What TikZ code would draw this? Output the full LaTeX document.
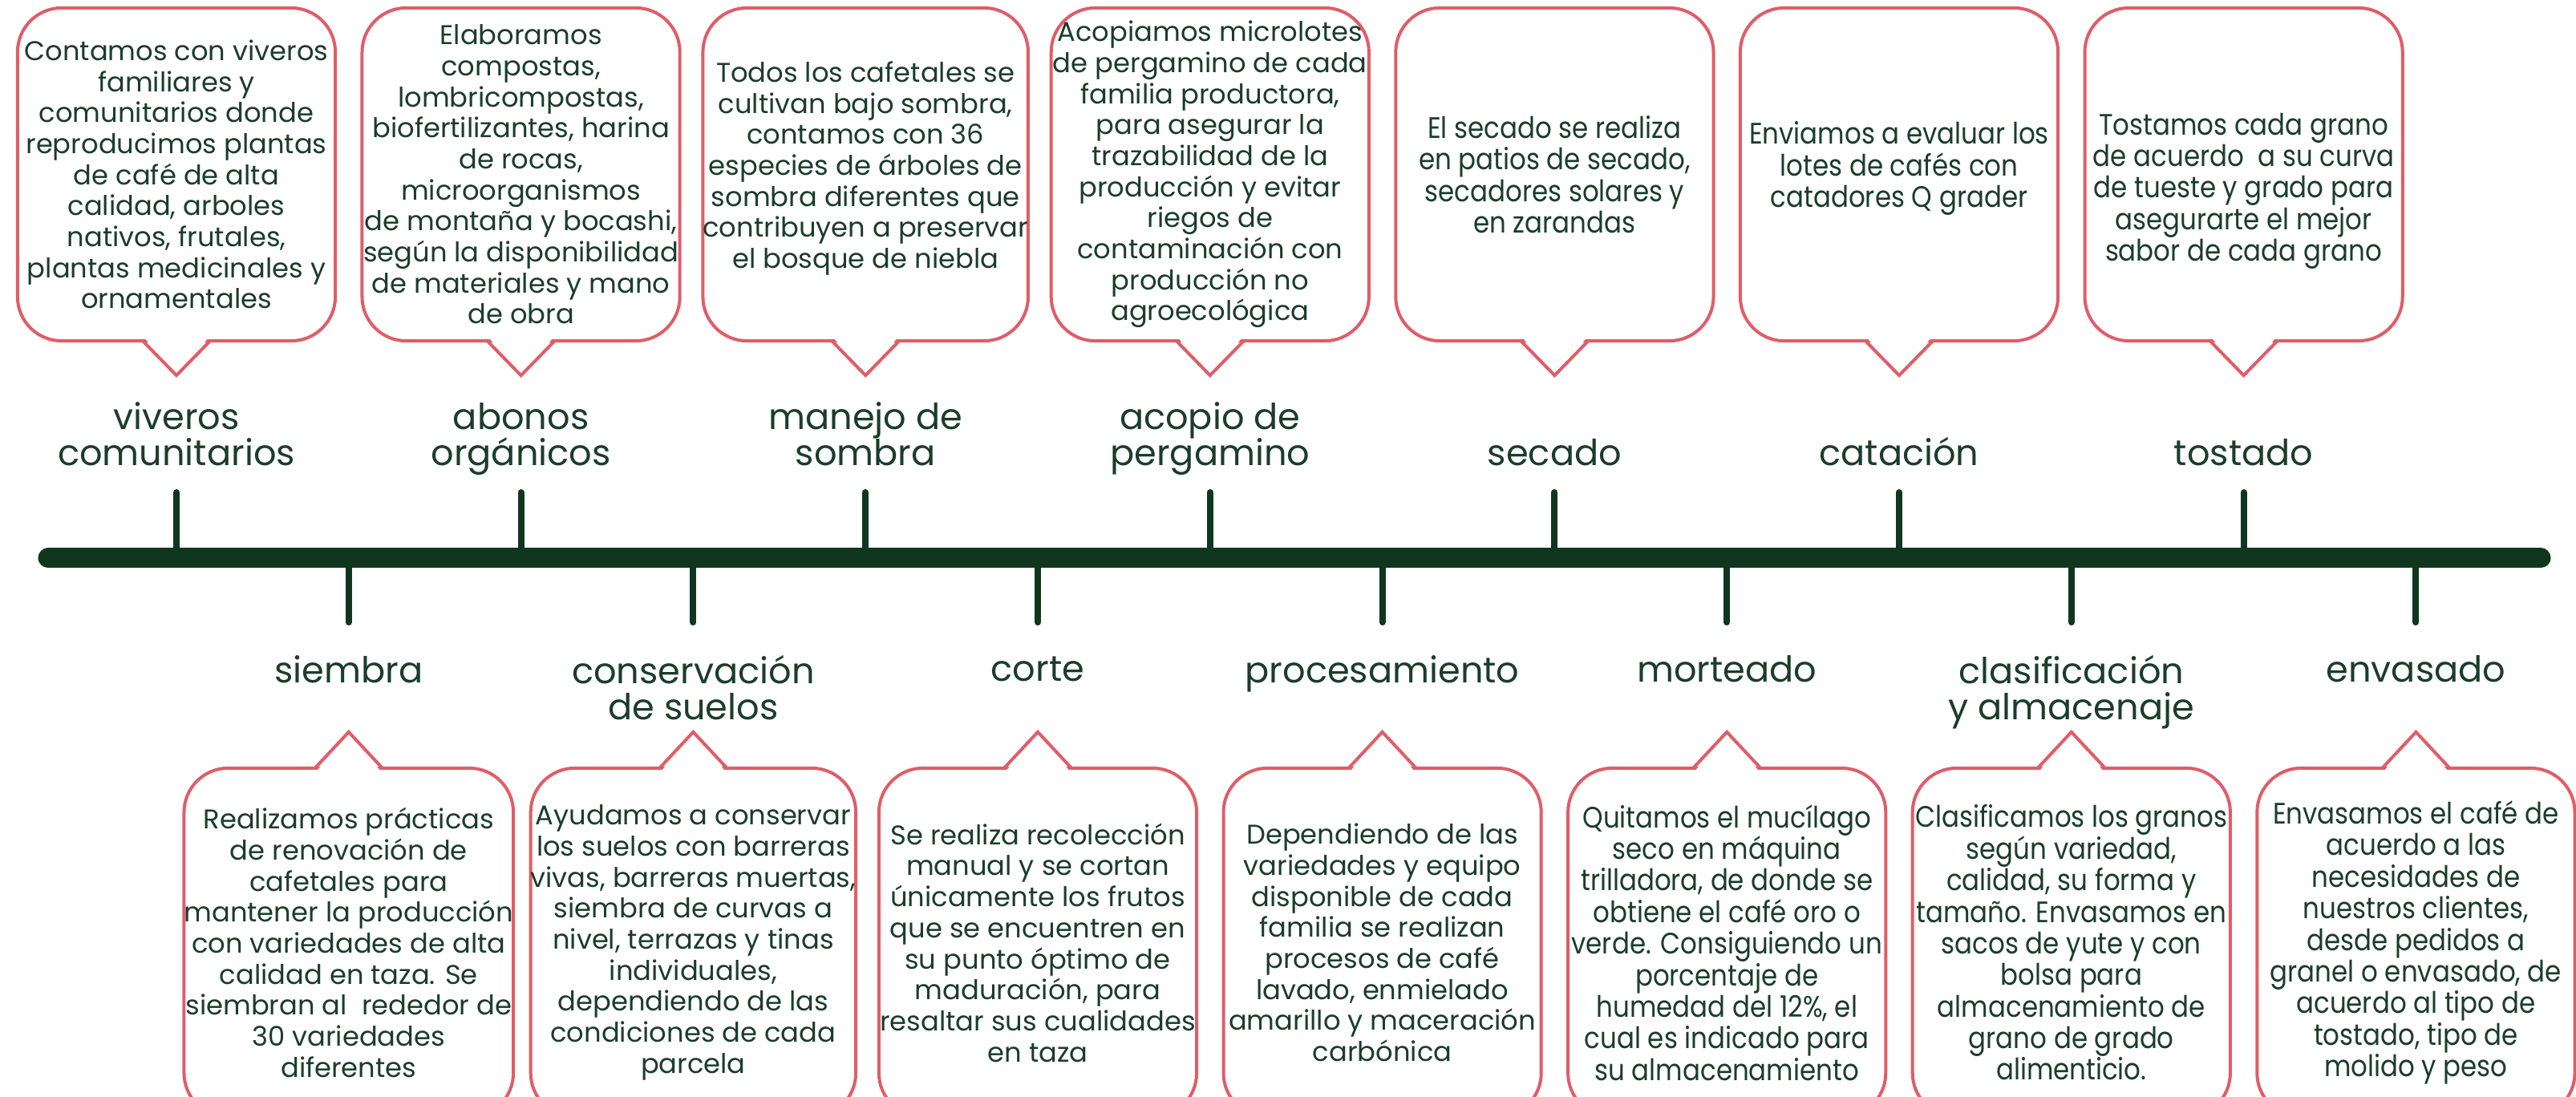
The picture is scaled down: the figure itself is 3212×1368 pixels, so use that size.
\documentclass[tikz,border=0pt]{standalone}
\usepackage{fontspec}
\setmainfont{Poppins}
\newfontfamily\angosta{Poppins}[FakeStretch=0.88]

\definecolor{verdecafe}{HTML}{113620}
\definecolor{textocafe}{HTML}{1B3D2B}
\definecolor{bordecaja}{HTML}{E05D68}

\tikzset{
  linea/.style={line width=0.25cm, line cap=round, verdecafe},
  marca/.style={line width=0.08cm, line cap=round, verdecafe},
  caja/.style={draw=bordecaja, line width=0.04cm, rounded corners=0.55cm, fill=white,
    minimum width=3.96cm, outer sep=0pt, inner sep=0pt, align=center, text=textocafe,
    font={\fontsize{9.6}{11}\selectfont\lineskiplimit=-20pt}},
  cajarriba/.style={caja, minimum height=4.15cm},
  cajabajo/.style={caja, minimum height=4.35cm},
  angosto/.style={font={\angosta\fontsize{10.5}{11.2}\selectfont\lineskiplimit=-20pt}},
  cola/.style={draw=bordecaja, line width=0.04cm, line join=miter},
  etiqueta/.style={align=center, text=textocafe, inner sep=0pt,
    font={\fontsize{12.7}{12.8}\selectfont\lineskiplimit=-20pt}},
  etarriba/.style={etiqueta, anchor=south, execute at end node=\strut},
  etabajo/.style={etiqueta, anchor=north, execute at begin node=\strut},
}

\begin{document}
\begin{tikzpicture}[x=0.01cm, y=-0.01cm]
  \useasboundingbox (0,0) rectangle (3212,1368);
  \clip (0,0) rectangle (3212,1368);

  % linea de tiempo
  \draw[linea] (60,696) coordinate (inicio) -- (3168,696) coordinate (final);

  % marcas
  \foreach \k in {0,2,...,12}
    \draw[marca] ({220+214.8*\k},696) -- ({220+214.8*\k},614);
  \foreach \k in {1,3,...,13}
    \draw[marca] ({220+214.8*\k},696) -- ({220+214.8*\k},776);

  % etapas de arriba
  \node[etarriba] (e-viveros)  at (220,595)    {viveros\\comunitarios};
  \node[etarriba] (e-abonos)   at (649.6,595)  {abonos\\orgánicos};
  \node[etarriba] (e-sombra)   at (1079.2,595) {manejo de\\sombra};
  \node[etarriba] (e-acopio)   at (1508.8,595) {acopio de\\pergamino};
  \node[etarriba] (e-secado)   at (1938.4,595) {secado};
  \node[etarriba] (e-catacion) at (2368,595)   {catación};
  \node[etarriba] (e-tostado)  at (2797.6,595) {tostado};

  % etapas de abajo
  \node[etabajo] (e-siembra)  at (434.8,817)  {siembra};
  \node[etabajo] (e-suelos)   at (864.4,817)  {conservación\\de suelos};
  \node[etabajo] (e-corte)    at (1294,817)   {corte};
  \node[etabajo] (e-proceso)  at (1723.6,817) {procesamiento};
  \node[etabajo] (e-morteado) at (2153.2,817) {morteado};
  \node[etabajo] (e-clasif)   at (2582.8,817) {clasificación\\y almacenaje};
  \node[etabajo] (e-envasado) at (3012.4,817) {envasado};

  % cajas de arriba
  \node[cajarriba] (c-viveros) at (220,217.5) {Contamos con viveros\\familiares y\\comunitarios donde\\reproducimos plantas\\de café de alta\\calidad, arboles\\nativos, frutales,\\plantas medicinales y\\ornamentales};
  \node[cajarriba] (c-abonos) at (649.6,217.5) {Elaboramos\\compostas,\\lombricompostas,\\biofertilizantes, harina\\de rocas,\\microorganismos\\de montaña y bocashi,\\según la disponibilidad\\de materiales y mano\\de obra};
  \node[cajarriba] (c-sombra) at (1079.2,217.5) {Todos los cafetales se\\cultivan bajo sombra,\\contamos con 36\\especies de árboles de\\sombra diferentes que\\contribuyen a preservar\\el bosque de niebla\\[-0.15cm]};
  \node[cajarriba] (c-acopio) at (1508.8,217.5) {Acopiamos microlotes\\de pergamino de cada\\familia productora,\\para asegurar la\\trazabilidad de la\\producción y evitar\\riegos de\\contaminación con\\producción no\\agroecológica};
  \node[cajarriba, angosto] (c-secado) at (1938.4,217.5) {El secado se realiza\\en patios de secado,\\secadores solares y\\en zarandas};
  \node[cajarriba, angosto] (c-catacion) at (2368,217.5) {Enviamos a evaluar los\\lotes de cafés con\\catadores Q grader\\[-0.15cm]};
  \node[cajarriba, angosto] (c-tostado) at (2797.6,217.5) {Tostamos cada grano\\de acuerdo\ \ a su curva\\de tueste y grado para\\asegurarte el mejor\\sabor de cada grano\\[-0.71cm]};

  % cajas de abajo
  \node[cajabajo] (c-siembra) at (434.8,1175.5) {Realizamos prácticas\\de renovación de\\cafetales para\\mantener la producción\\con variedades de alta\\calidad en taza. Se\\siembran al\ \ rededor de\\30 variedades\\diferentes};
  \node[cajabajo] (c-suelos) at (864.4,1175.5) {Ayudamos a conservar\\los suelos con barreras\\vivas, barreras muertas,\\siembra de curvas a\\nivel, terrazas y tinas\\individuales,\\dependiendo de las\\condiciones de cada\\parcela};
  \node[cajabajo] (c-corte) at (1294,1175.5) {Se realiza recolección\\manual y se cortan\\únicamente los frutos\\que se encuentren en\\su punto óptimo de\\maduración, para\\resaltar sus cualidades\\en taza};
  \node[cajabajo] (c-proceso) at (1723.6,1175.5) {Dependiendo de las\\variedades y equipo\\disponible de cada\\familia se realizan\\procesos de café\\lavado, enmielado\\amarillo y maceración\\carbónica};
  \node[cajabajo, angosto] (c-morteado) at (2153.2,1175.5) {Quitamos el mucílago\\seco en máquina\\trilladora, de donde se\\obtiene el café oro o\\verde. Consiguiendo un\\porcentaje de\\humedad del 12\%, el\\cual es indicado para\\su almacenamiento};
  \node[cajabajo, angosto] (c-clasif) at (2582.8,1175.5) {Clasificamos los granos\\según variedad,\\calidad, su forma y\\tamaño. Envasamos en\\sacos de yute y con\\bolsa para\\almacenamiento de\\grano de grado\\alimenticio.};
  \node[cajabajo, angosto] (c-envasado) at (3012.4,1175.5) {Envasamos el café de\\acuerdo a las\\necesidades de\\nuestros clientes,\\desde pedidos a\\granel o envasado, de\\acuerdo al tipo de\\tostado, tipo de\\molido y peso};

  % picos de las cajas
  \foreach \n in {viveros,abonos,sombra,acopio,secado,catacion,tostado}
    {
      \fill[white] ([xshift=-0.4cm,yshift=0.04cm]c-\n.south) -- ([yshift=-0.43cm]c-\n.south)
        -- ([xshift=0.4cm,yshift=0.04cm]c-\n.south) -- cycle;
      \draw[cola] ([xshift=-0.42cm]c-\n.south) -- ([yshift=-0.43cm]c-\n.south) -- ([xshift=0.42cm]c-\n.south);
    }
  \foreach \n in {siembra,suelos,corte,proceso,morteado,clasif,envasado}
    {
      \fill[white] ([xshift=-0.4cm,yshift=-0.04cm]c-\n.north) -- ([yshift=0.45cm]c-\n.north)
        -- ([xshift=0.4cm,yshift=-0.04cm]c-\n.north) -- cycle;
      \draw[cola] ([xshift=-0.42cm]c-\n.north) -- ([yshift=0.45cm]c-\n.north) -- ([xshift=0.42cm]c-\n.north);
    }
\end{tikzpicture}
\end{document}
